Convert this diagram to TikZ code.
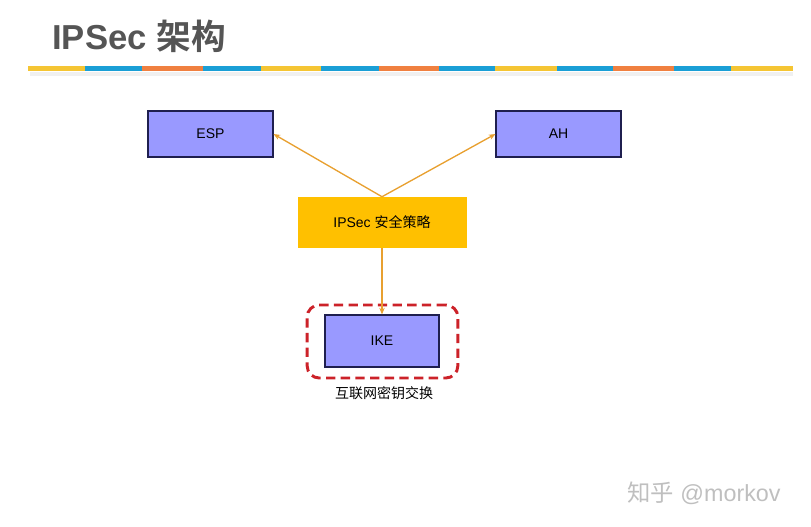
\documentclass[tikz,border=0pt]{standalone}
\usepackage{fontspec}
\setmainfont{Liberation Sans}
\newfontfamily\cjk{Noto Sans CJK SC}[BoldFont={Noto Sans CJK SC Bold}]
\usetikzlibrary{arrows.meta}
\definecolor{stY}{HTML}{F5C533}
\definecolor{stB}{HTML}{1A9FD6}
\definecolor{stO}{HTML}{F08040}
\definecolor{boxfill}{HTML}{9999FF}
\definecolor{boxline}{HTML}{1F1F4F}
\definecolor{gold}{HTML}{FFC000}
\definecolor{arr}{HTML}{E8A030}
\definecolor{dashred}{HTML}{CC2229}
\definecolor{titlegray}{HTML}{555555}
\begin{document}
\begin{tikzpicture}[x=0.75pt,y=-0.75pt,
  proto/.style={draw=boxline, line width=0.8pt, fill=boxfill, minimum width=93.75pt, minimum height=34.5pt, inner sep=0pt, font=\fontsize{10.5}{12}\selectfont},
  policy/.style={fill=gold, minimum width=126.75pt, minimum height=38.25pt, inner sep=0pt, font=\fontsize{10.5}{12}\selectfont},
  conn/.style={draw=arr, line width=1pt, -{Stealth[length=5pt,width=4pt]}},
  seg/.style={line width=3.75pt}]
\useasboundingbox (0,0) rectangle (811,526);
% title
\node[anchor=base west, inner sep=0pt, text=titlegray, font=\fontsize{26}{30}\bfseries\selectfont] (title) at (52,49) {IPSec {\cjk\bfseries 架构}};
% stripe shadow
\fill[black!6] (30,72) rectangle (793,76);
% stripe
\foreach \a/\b/\c in {28/85/stY,85/142/stB,142/203/stO,203/261/stB,261/321/stY,321/379/stB,379/439/stO,439/495/stB,495/557/stY,557/613/stB,613/674/stO,674/731/stB,731/793/stY}
  \draw[seg,\c] (\a,68.5) -- (\b,68.5);
% boxes
\node[proto] (esp) at (210.5,134) {ESP};
\node[proto] (ah) at (558.5,134) {AH};
\node[policy] (pol) at (382,222.5) {IPSec {\cjk 安全策略}};
\node[proto, minimum width=85.5pt, minimum height=39pt] (ike) at (382,341) {IKE};
\node[draw=dashred, line width=2.2pt, dash pattern=on 7pt off 4pt, rounded corners=9pt, minimum width=113pt, minimum height=54.75pt] (ikegroup) at (382.5,341.5) {};
\node[font=\cjk\fontsize{10.5}{12}\selectfont] (ikelabel) at (384,393) {互联网密钥交换};
% connectors
\coordinate (top) at (pol.north);
\draw[conn] (top) -- (esp.east);
\draw[conn] (top) -- (ah.west);
\draw[conn] (pol.south) -- (ike.north);
% watermark
\node[anchor=base west, inner sep=0pt, text=black!25, font=\fontsize{17.5}{20}\selectfont] (wm) at (627,501) {{\cjk 知乎} @morkov};
\end{tikzpicture}
\end{document}
